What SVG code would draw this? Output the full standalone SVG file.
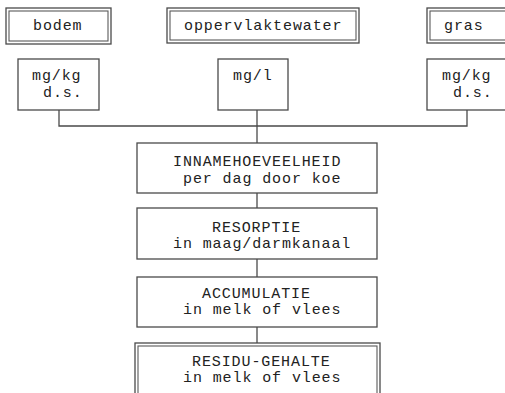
<svg xmlns="http://www.w3.org/2000/svg" width="505" height="393" viewBox="0 0 505 393">
  <style>
    .box { fill: #ffffff; stroke: #4a4a4a; stroke-width: 1.3; }
    .inner { fill: none; stroke: #5a5a5a; stroke-width: 1.1; }
    .lbl { font-family: "Liberation Mono", "Courier New", monospace; font-size: 15px; letter-spacing: 0.9px; fill: #222222; }
    .wire { fill: none; stroke: #4a4a4a; stroke-width: 1.3; }
  </style>
  <rect width="505" height="393" fill="#ffffff"/>

  <!-- connectors -->
  <g id="connectors">
    <polyline class="wire" points="59,110 59,126 467,126 467,110"/>
    <line class="wire" x1="257" y1="110" x2="257" y2="143"/>
    <line class="wire" x1="257" y1="193" x2="257" y2="208"/>
    <line class="wire" x1="257" y1="259" x2="257" y2="277"/>
    <line class="wire" x1="257" y1="327" x2="257" y2="343"/>
  </g>

  <!-- source media -->
  <g id="bodem">
    <rect class="box" x="6" y="8" width="105" height="36"/>
    <rect class="inner" x="9" y="11" width="99" height="30"/>
    <text class="lbl" x="33" y="30">bodem</text>
  </g>
  <g id="oppervlaktewater">
    <rect class="box" x="167" y="8" width="192" height="35"/>
    <rect class="inner" x="170" y="11" width="186" height="29"/>
    <text class="lbl" x="184" y="30">oppervlaktewater</text>
  </g>
  <g id="gras">
    <rect class="box" x="427" y="8" width="90" height="35"/>
    <rect class="inner" x="430" y="11" width="84" height="29"/>
    <text class="lbl" x="444" y="30">gras</text>
  </g>

  <!-- concentration units -->
  <g id="eenheid-bodem">
    <rect class="box" x="18" y="59" width="81" height="51"/>
    <text class="lbl" x="32" y="80">mg/kg</text>
    <text class="lbl" x="43" y="97">d.s.</text>
  </g>
  <g id="eenheid-water">
    <rect class="box" x="218" y="59" width="70" height="51"/>
    <text class="lbl" x="233" y="80">mg/l</text>
  </g>
  <g id="eenheid-gras">
    <rect class="box" x="427" y="59" width="90" height="51"/>
    <text class="lbl" x="442" y="80">mg/kg</text>
    <text class="lbl" x="453" y="97">d.s.</text>
  </g>

  <!-- process chain -->
  <g id="innamehoeveelheid">
    <rect class="box" x="137" y="143" width="240" height="50"/>
    <text class="lbl" x="173" y="165.5">INNAMEHOEVEELHEID</text>
    <text class="lbl" x="183" y="182.5">per dag door koe</text>
  </g>
  <g id="resorptie">
    <rect class="box" x="137" y="208" width="240" height="51"/>
    <text class="lbl" x="212" y="231.5">RESORPTIE</text>
    <text class="lbl" x="173" y="247.5">in maag/darmkanaal</text>
  </g>
  <g id="accumulatie">
    <rect class="box" x="137" y="277" width="240" height="50"/>
    <text class="lbl" x="202" y="297.5">ACCUMULATIE</text>
    <text class="lbl" x="183" y="313.5">in melk of vlees</text>
  </g>
  <g id="residu-gehalte">
    <rect class="box" x="135" y="343" width="245" height="60"/>
    <rect class="inner" x="138" y="346" width="239" height="54"/>
    <text class="lbl" x="192" y="365.5">RESIDU-GEHALTE</text>
    <text class="lbl" x="183" y="381.5">in melk of vlees</text>
  </g>
</svg>
